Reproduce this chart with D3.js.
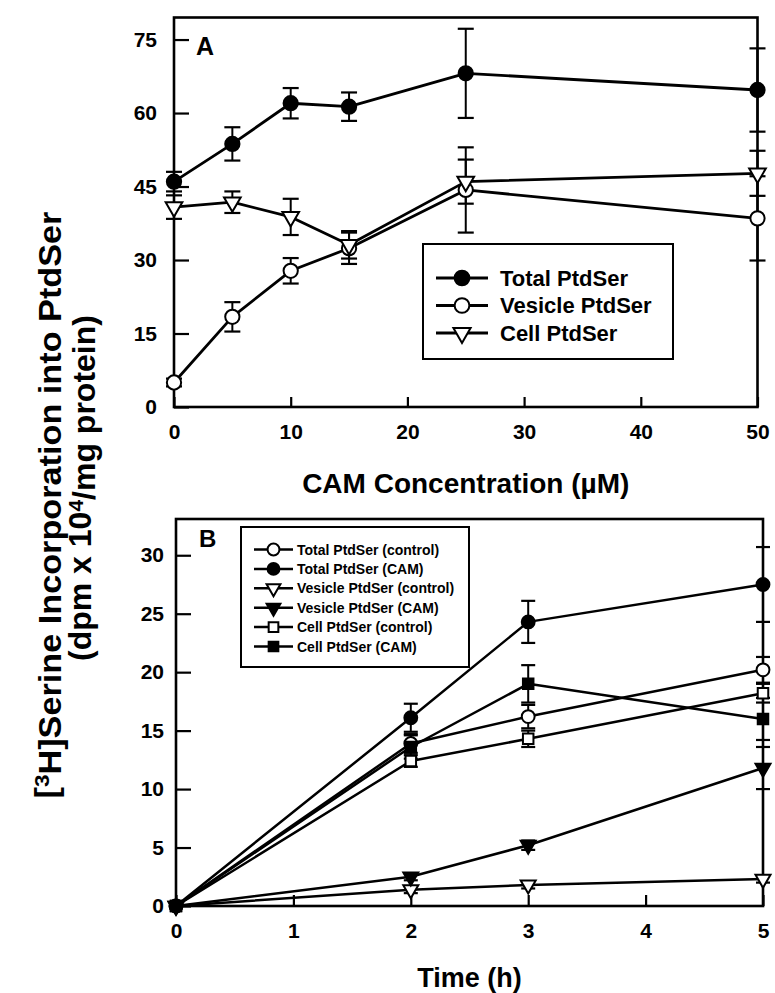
<!DOCTYPE html>
<html>
<head>
<meta charset="utf-8">
<script src="https://cdn.jsdelivr.net/npm/d3@7/dist/d3.min.js"></script>
<style>
  html, body { margin: 0; padding: 0; background: #fff; }
  svg { display: block; }
  text { font-family: "Liberation Sans", Arial, Helvetica, sans-serif; font-weight: bold; fill: #000; }
</style>
</head>
<body>
<svg id="chart" width="775" height="993"></svg>
<script>
// ---- Panel A: incorporation vs CAM concentration ----
const camConc = [0, 5, 10, 15, 25, 50];
const totalA = [46.0, 53.7, 62.0, 61.3, 68.1, 64.7];
const totalAErr = [2.0, 3.4, 3.1, 2.9, 9.1, 8.5];
const vesicleA = [5.0, 18.4, 27.8, 32.4, 44.3, 38.5];
const vesicleAErr = [0.8, 3.0, 2.6, 3.2, 8.7, 8.6];
const cellA = [40.8, 41.8, 38.8, 33.1, 46.0, 47.7];
const cellAErr = [2.4, 2.2, 3.7, 2.8, 4.5, 4.6];
const xTicksA = [0, 10, 20, 30, 40, 50];
const yTicksA = [0, 15, 30, 45, 60, 75];

// ---- Panel B: incorporation vs time ----
const timeB = [0, 2, 3, 5];
const totalCtrl = [0, 13.9, 16.2, 20.2];
const totalCtrlErr = [0, 0.8, 1.0, 1.1];
const totalCam = [0, 16.1, 24.3, 27.5];
const totalCamErr = [0, 1.2, 1.8, 3.2];
const vesCtrl = [0, 1.4, 1.8, 2.3];
const vesCtrlErr = [0, 0.3, 0.3, 0.3];
const vesCam = [0, 2.5, 5.2, 11.8];
const vesCamErr = [0, 0.3, 0.4, 1.8];
const cellCtrl = [0, 12.4, 14.3, 18.2];
const cellCtrlErr = [0, 0.5, 0.7, 0.8];
const cellCam = [0, 13.6, 19.0, 16.0];
const cellCamErr = [0, 1.0, 1.6, 1.8];
const xTicksB = [0, 1, 2, 3, 4, 5];
const yTicksB = [0, 5, 10, 15, 20, 25, 30];

const svg = d3.select("#chart");

const triDown = d3.symbol().type(d3.symbolTriangle);
function markerPath(shape, size) {
  if (shape === "circle") return d3.symbol().type(d3.symbolCircle).size(size)();
  if (shape === "square") return d3.symbol().type(d3.symbolSquare).size(size * 0.85)();
  return triDown.size(size * 0.75)();
}

function drawPanel(cfg) {
  const g = svg.append("g");
  const x = d3.scaleLinear().domain(cfg.xDomain).range(cfg.xRange);
  const y = d3.scaleLinear().domain(cfg.yDomain).range(cfg.yRange);

  // y axis, ticks pointing into the plot
  const ya = g.append("g").attr("transform", `translate(${cfg.xRange[0]},0)`)
    .call(d3.axisLeft(y).tickValues(cfg.yTicks).tickFormat(d3.format("d"))
      .tickSize(-cfg.yTickLen).tickPadding(cfg.yPad));
  ya.select(".domain").remove();
  ya.selectAll("line").attr("stroke", "#000").attr("stroke-width", 2.2);
  ya.selectAll("text").style("font-size", cfg.tickFont + "px");

  const xa = g.append("g").attr("transform", `translate(0,${cfg.yRange[0]})`)
    .call(d3.axisBottom(x).tickValues(cfg.xTicks).tickFormat(d3.format("d"))
      .tickSize(-cfg.xTickLen).tickPadding(cfg.xPad));
  xa.select(".domain").remove();
  xa.selectAll("line").attr("stroke", "#000").attr("stroke-width", 2.2);
  xa.selectAll("text").style("font-size", cfg.tickFont + "px");

  // frame
  g.append("rect")
    .attr("x", cfg.xRange[0]).attr("y", cfg.yRange[1])
    .attr("width", cfg.xRange[1] - cfg.xRange[0])
    .attr("height", cfg.yRange[0] - cfg.yRange[1])
    .attr("fill", "none").attr("stroke", "#000").attr("stroke-width", 2.6);

  const line = d3.line().x((d) => x(d[0])).y((d) => y(d[1]));

  // connecting lines
  cfg.series.forEach((s) => {
    const pts = cfg.xs.map((xv, i) => [xv, s.values[i]]);
    g.append("path").attr("d", line(pts)).attr("fill", "none")
      .attr("stroke", "#000").attr("stroke-width", cfg.lineW).attr("stroke-linejoin", "round");
  });

  // error bars
  cfg.series.forEach((s) => {
    cfg.xs.forEach((xv, i) => {
      const e = s.err[i];
      if (!e) return;
      const cx = x(xv), y1 = y(s.values[i] + e), y2 = y(s.values[i] - e);
      g.append("line").attr("x1", cx).attr("x2", cx).attr("y1", y1).attr("y2", y2)
        .attr("stroke", "#000").attr("stroke-width", 2);
      [y1, y2].forEach((yy) => g.append("line")
        .attr("x1", cx - cfg.cap).attr("x2", cx + cfg.cap).attr("y1", yy).attr("y2", yy)
        .attr("stroke", "#000").attr("stroke-width", 2.2));
    });
  });

  // markers
  cfg.series.forEach((s) => {
    cfg.xs.forEach((xv, i) => {
      const rot = s.shape === "triangle" ? " rotate(180)" : "";
      g.append("path").attr("d", markerPath(s.shape, cfg.markSize))
        .attr("transform", `translate(${x(xv)},${y(s.values[i])})${rot}`)
        .attr("fill", s.filled ? "#000" : "#fff")
        .attr("stroke", "#000").attr("stroke-width", 2);
    });
  });

  // panel letter
  g.append("text").attr("x", cfg.letterPos[0]).attr("y", cfg.letterPos[1])
    .style("font-size", cfg.letterFont + "px").text(cfg.letter);

  // legend
  const L = cfg.legend;
  g.append("rect").attr("x", L.x).attr("y", L.y).attr("width", L.w).attr("height", L.h)
    .attr("fill", "#fff").attr("stroke", "#000").attr("stroke-width", 2);
  cfg.series.slice().sort((a, b) => a.legendOrder - b.legendOrder).forEach((s, k) => {
    const ly = L.firstY + k * L.step;
    g.append("line").attr("x1", L.lineX0).attr("x2", L.lineX1).attr("y1", ly).attr("y2", ly)
      .attr("stroke", "#000").attr("stroke-width", cfg.lineW);
    const rot = s.shape === "triangle" ? " rotate(180)" : "";
    g.append("path").attr("d", markerPath(s.shape, L.markSize))
      .attr("transform", `translate(${(L.lineX0 + L.lineX1) / 2},${ly})${rot}`)
      .attr("fill", s.filled ? "#000" : "#fff").attr("stroke", "#000").attr("stroke-width", 2);
    g.append("text").attr("x", L.textX).attr("y", ly).attr("dy", "0.36em")
      .style("font-size", L.font + "px").text(s.name);
  });

  // x-axis title
  g.append("text").attr("x", (cfg.xRange[0] + cfg.xRange[1]) / 2).attr("y", cfg.titleY)
    .attr("text-anchor", "middle").style("font-size", cfg.titleFont + "px").text(cfg.xTitle);
}

drawPanel({
  xDomain: [0, 50], xRange: [174, 757.5],
  yDomain: [0, 79.5], yRange: [407, 17.5],
  xTicks: xTicksA, yTicks: yTicksA,
  yTickLen: 15, xTickLen: 10, yPad: 17, xPad: 17, tickFont: 21,
  xs: camConc, lineW: 2.8, cap: 8, markSize: 160,
  series: [
    { name: "Total PtdSer", values: totalA, err: totalAErr, shape: "circle", filled: true, legendOrder: 0 },
    { name: "Vesicle PtdSer", values: vesicleA, err: vesicleAErr, shape: "circle", filled: false, legendOrder: 1 },
    { name: "Cell PtdSer", values: cellA, err: cellAErr, shape: "triangle", filled: false, legendOrder: 2 }
  ],
  letter: "A", letterPos: [196, 55], letterFont: 25,
  legend: { x: 423, y: 244, w: 250, h: 115, firstY: 278, step: 27.5,
            lineX0: 436, lineX1: 488, textX: 500, font: 22, markSize: 170 },
  xTitle: "CAM Concentration (µM)", titleY: 493, titleFont: 28
});

drawPanel({
  xDomain: [0, 5], xRange: [176, 763],
  yDomain: [0, 33.1], yRange: [906, 519],
  xTicks: xTicksB, yTicks: yTicksB,
  yTickLen: 15, xTickLen: 11, yPad: 12, xPad: 17, tickFont: 21,
  xs: timeB, lineW: 2.5, cap: 7, markSize: 130,
  series: [
    { name: "Total PtdSer (control)", values: totalCtrl, err: totalCtrlErr, shape: "circle", filled: false, legendOrder: 0 },
    { name: "Total PtdSer (CAM)", values: totalCam, err: totalCamErr, shape: "circle", filled: true, legendOrder: 1 },
    { name: "Vesicle PtdSer (control)", values: vesCtrl, err: vesCtrlErr, shape: "triangle", filled: false, legendOrder: 2 },
    { name: "Vesicle PtdSer (CAM)", values: vesCam, err: vesCamErr, shape: "triangle", filled: true, legendOrder: 3 },
    { name: "Cell PtdSer (control)", values: cellCtrl, err: cellCtrlErr, shape: "square", filled: false, legendOrder: 4 },
    { name: "Cell PtdSer (CAM)", values: cellCam, err: cellCamErr, shape: "square", filled: true, legendOrder: 5 }
  ],
  letter: "B", letterPos: [199, 547], letterFont: 24,
  legend: { x: 241, y: 527, w: 228, h: 140, firstY: 549.5, step: 19.4,
            lineX0: 254, lineX1: 293, textX: 297, font: 14, markSize: 110 },
  xTitle: "Time (h)", titleY: 987, titleFont: 27
});

// shared y-axis title, two rotated lines
const yt1 = svg.append("g").attr("transform", "translate(0,505) rotate(-90) scale(1.07,1)");
const t1 = yt1.append("text").attr("x", 0).attr("y", 57).attr("text-anchor", "middle").style("font-size", "32px");
t1.append("tspan").text("[");
t1.append("tspan").attr("dy", "-0.4em").style("font-size", "21px").text("3");
t1.append("tspan").attr("dy", "0.4em").text("H]Serine Incorporation into PtdSer");
const yt2 = svg.append("g").attr("transform", "translate(0,488) rotate(-90)");
const t2 = yt2.append("text").attr("x", 0).attr("y", 91).attr("text-anchor", "middle").style("font-size", "32px");
t2.append("tspan").text("(dpm x 10");
t2.append("tspan").attr("dy", "-0.4em").style("font-size", "21px").text("4");
t2.append("tspan").attr("dy", "0.4em").text("/mg protein)");
</script>
</body>
</html>
